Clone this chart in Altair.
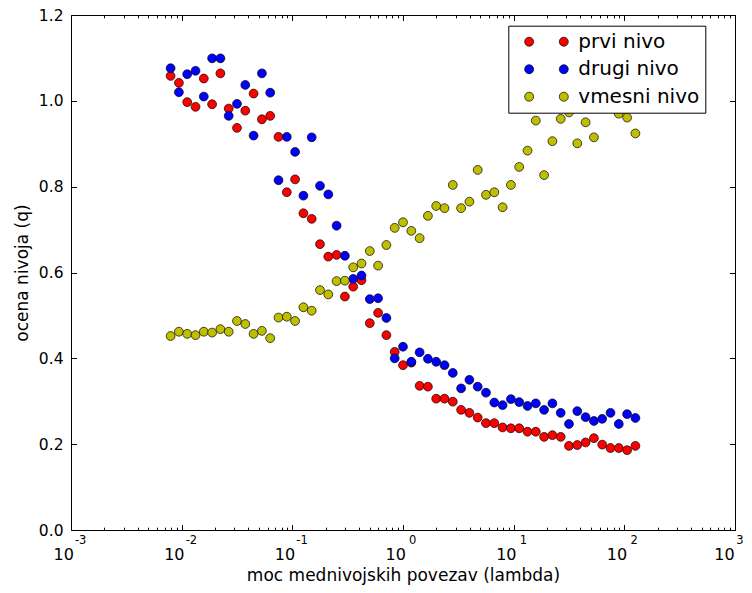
import altair as alt
import pandas as pd

# lambda values (x)
lam = [0.007943, 0.009441, 0.01122, 0.01334, 0.01585, 0.01884, 0.02239, 0.02661, 0.03162, 0.03758,
       0.04467, 0.05309, 0.06310, 0.07499, 0.08913, 0.1059, 0.1259, 0.1496, 0.1778, 0.2113,
       0.2512, 0.2985, 0.3548, 0.4217, 0.5012, 0.5957, 0.7079, 0.8414, 1.0, 1.189,
       1.413, 1.679, 1.995, 2.371, 2.818, 3.350, 3.981, 4.732, 5.623, 6.683,
       7.943, 9.441, 11.22, 13.34, 15.85, 18.84, 22.39, 26.61, 31.62, 37.58,
       44.67, 53.09, 63.10, 74.99, 89.13, 105.9, 125.9]

prvi = [1.058, 1.042, 0.997, 0.986, 1.052, 0.992, 1.064, 0.982, 0.937, 0.977,
        1.017, 0.957, 0.965, 0.916, 0.787, 0.817, 0.738, 0.725, 0.666, 0.637,
        0.641, 0.544, 0.567, 0.582, 0.482, 0.506, 0.454, 0.415, 0.384, 0.390,
        0.336, 0.334, 0.306, 0.306, 0.299, 0.280, 0.273, 0.262, 0.249, 0.249,
        0.239, 0.237, 0.237, 0.229, 0.229, 0.217, 0.221, 0.217, 0.196, 0.198,
        0.204, 0.214, 0.199, 0.191, 0.191, 0.186, 0.196]

drugi = [1.076, 1.020, 1.062, 1.070, 1.010, 1.099, 1.099, 0.965, 0.993, 1.037,
         0.919, 1.064, 1.019, 0.815, 0.916, 0.881, 0.779, 0.915, 0.802, 0.782,
         0.709, 0.639, 0.585, 0.593, 0.538, 0.540, 0.494, 0.400, 0.427, 0.392,
         0.414, 0.399, 0.392, 0.384, 0.366, 0.330, 0.350, 0.334, 0.320, 0.297,
         0.291, 0.305, 0.298, 0.289, 0.295, 0.280, 0.295, 0.273, 0.247, 0.277,
         0.263, 0.254, 0.259, 0.273, 0.247, 0.270, 0.261]

vmesni = [0.452, 0.462, 0.457, 0.454, 0.462, 0.460, 0.468, 0.462, 0.487, 0.480,
          0.457, 0.464, 0.447, 0.495, 0.497, 0.487, 0.519, 0.511, 0.559, 0.549,
          0.580, 0.581, 0.612, 0.621, 0.650, 0.616, 0.664, 0.704, 0.717, 0.697,
          0.680, 0.732, 0.755, 0.750, 0.804, 0.750, 0.765, 0.839, 0.781, 0.787,
          0.752, 0.804, 0.846, 0.884, 0.954, 0.827, 0.906, 0.958, 0.973, 0.901,
          0.950, 0.915, 1.010, 1.000, 0.970, 0.961, 0.924]

names = ["prvi nivo", "drugi nivo", "vmesni nivo"]
colors = ["#ff0000", "#0000ff", "#bfbf00"]

rows = []
for name, vals in zip(names, [prvi, drugi, vmesni]):
    for x, y in zip(lam, vals):
        rows.append({"lam": x, "q": y, "series": name})
df = pd.DataFrame(rows)

W, H = 664, 515
xscale = alt.Scale(type="log", domain=[0.001, 1000], nice=False)
yscale = alt.Scale(domain=[0, 1.2], nice=False, zero=False)

major = [10.0 ** k for k in range(-3, 4)]
minor_all = [m * 10.0 ** k for k in range(-3, 3) for m in range(1, 10)] + [1000.0]
yvals = [0, 0.2, 0.4, 0.6, 0.8, 1.0, 1.2]
ISMAJ = "abs(log(datum.value)/LN10 - round(log(datum.value)/LN10)) < 0.01"
xtick_size = {"condition": {"test": ISMAJ, "value": 5.5}, "value": 2.8}
LAST = "datum.value > 500"

ax_x_main = alt.Axis(orient="bottom", values=major, labelExpr="'10'", labelFontSize=16,
                     labelPadding=16,
                     labelOffset={"condition": {"test": LAST, "value": -11}, "value": -7.8},
                     labelFlush=False, labelOverlap=False,
                     ticks=False, tickSize=0, domain=False, grid=False,
                     title="moc mednivojskih povezav (lambda)", titleFontSize=17,
                     titleFontWeight="normal", titlePadding=5, labelColor="black", titleColor="black")
ax_x_exp = alt.Axis(orient="bottom", values=major, labelExpr="'' + round(log(datum.value)/LN10)",
                    labelFontSize=11.5, labelPadding=4.5,
                    labelOffset={"condition": {"test": LAST, "value": 4.5}, "value": 9.2},
                    labelFlush=False,
                    labelOverlap=False, ticks=False, tickSize=0, domain=False, grid=False,
                    title=None, labelColor="black")
ax_x_tb = alt.Axis(orient="top", offset=-H, values=minor_all, tickSize=xtick_size, labels=False,
                   domain=False, grid=False, title=None, tickColor="black")
ax_x_tt = alt.Axis(orient="bottom", offset=-H, values=minor_all, tickSize=xtick_size, labels=False,
                   domain=False, grid=False, title=None, tickColor="black")

ax_y_main = alt.Axis(orient="left", values=yvals, format=".1f", labelFontSize=15.5, labelPadding=8,
                     ticks=False, tickSize=0, domain=False, grid=False, title="ocena nivoja (q)",
                     titleFontSize=17, titleFontWeight="normal", titlePadding=7,
                     labelColor="black", titleColor="black")
ax_y_tl = alt.Axis(orient="right", offset=-W, values=yvals, tickSize=5.5, labels=False,
                   domain=False, grid=False, title=None, tickColor="black")
ax_y_tr = alt.Axis(orient="left", offset=-W, values=yvals, tickSize=5.5, labels=False,
                   domain=False, grid=False, title=None, tickColor="black")

PATH = ("M -8.7,0 A 1,1 0 1,0 -6.7,0 A 1,1 0 1,0 -8.7,0 Z "
        "M -1,0 A 1,1 0 1,0 1,0 A 1,1 0 1,0 -1,0 Z")

leg = alt.Legend(title=None, orient="none", legendX=437.3, legendY=10.7, labelFontSize=20,
                 labelColor="black", symbolType=PATH, symbolSize=81, symbolOffset=39.5,
                 labelOffset=4.5, padding=6, rowPadding=7.5, strokeColor="black",
                 fillColor="white", symbolStrokeColor="black", symbolStrokeWidth=0.7,
                 labelExpr="datum.label + '  '")

base = alt.Chart(df)
pts = base.mark_circle(size=78, opacity=1, stroke="black", strokeWidth=0.7).encode(
    x=alt.X("lam:Q", scale=xscale, axis=ax_x_main),
    y=alt.Y("q:Q", scale=yscale, axis=ax_y_main),
    color=alt.Color("series:N", scale=alt.Scale(domain=names, range=colors), legend=leg),
)
g1 = base.mark_point(opacity=0).encode(
    x=alt.X("lam:Q", scale=xscale, axis=ax_x_exp),
    y=alt.Y("q:Q", scale=yscale, axis=ax_y_tl),
)
g2 = base.mark_point(opacity=0).encode(
    x=alt.X("lam:Q", scale=xscale, axis=ax_x_tb),
    y=alt.Y("q:Q", scale=yscale, axis=ax_y_tr),
)
g3 = base.mark_point(opacity=0).encode(
    x=alt.X("lam:Q", scale=xscale, axis=ax_x_tt),
    y=alt.Y("q:Q", scale=yscale, axis=None),
)

chart = alt.layer(pts, g1, g2, g3).resolve_axis(x="independent", y="independent").properties(
    width=W, height=H, autosize=alt.AutoSizeParams(type="none"),
    padding={"left": 63, "top": 7, "right": 9, "bottom": 55},
).configure(font="DejaVu Sans").configure_view(stroke="black", strokeWidth=1)

chart.save("out.html", embed_options={"renderer": "svg", "actions": False})
